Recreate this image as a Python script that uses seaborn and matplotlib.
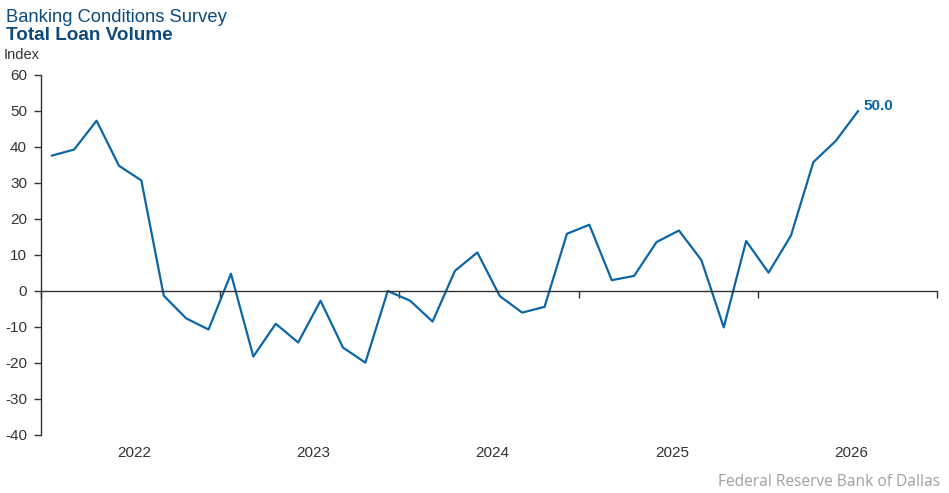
import numpy as np
import matplotlib
matplotlib.use("Agg")
import matplotlib.pyplot as plt
import seaborn as sns

# Total loan volume index, survey waves (8 per year) starting early 2022
loan_volume = [37.6, 39.3, 47.3, 34.8, 30.7, -1.3, -7.6, -10.7, 4.8, -18.2,
               -9.1, -14.3, -2.7, -15.7, -19.9, 0.0, -2.7, -8.5, 5.6, 10.7,
               -1.4, -6.0, -4.4, 15.9, 18.4, 3.0, 4.2, 13.6, 16.8, 8.6,
               -10.1, 13.9, 5.1, 15.4, 35.8, 41.7, 50.0]
waves_per_year = 8
first_year = 2022
years = [2022, 2023, 2024, 2025, 2026]
y_ticks = [-40, -30, -20, -10, 0, 10, 20, 30, 40, 50, 60]

BLUE = "#0b66a8"
NAVY = "#0d4a7c"
GREY = "#333333"


def main():
    sns.set_style("white")
    plt.rcParams['font.family'] = ['Liberation Sans', 'DejaVu Sans']

    t = first_year + (np.arange(len(loan_volume)) + 0.48) / waves_per_year

    fig = plt.figure(figsize=(9.49, 4.93), dpi=100)
    ax = fig.add_axes([41 / 949, 1 - 435 / 493, (937 - 41) / 949, 360 / 493])

    sns.lineplot(x=t, y=loan_volume, ax=ax, color=BLUE, linewidth=1.6)

    ax.set_xlim(years[0], years[-1] + 1)
    ax.set_ylim(y_ticks[0], y_ticks[-1])

    for s in ['top', 'right']:
        ax.spines[s].set_visible(False)
    ax.spines['left'].set_color(GREY)
    ax.spines['left'].set_linewidth(1.0)
    ax.spines['bottom'].set_position(('data', 0))
    ax.spines['bottom'].set_color(GREY)
    ax.spines['bottom'].set_linewidth(1.0)

    ax.set_yticks(y_ticks)
    ax.set_yticklabels([str(v) for v in y_ticks])
    ax.tick_params(axis='y', direction='out', length=5, width=1.0,
                   color=GREY, labelcolor=GREY, labelsize=11, pad=5, left=True)

    # year boundary ticks on the zero line, no labels there
    ax.set_xticks(years + [years[-1] + 1])
    ax.set_xticklabels([])
    ax.tick_params(axis='x', direction='out', length=5, width=1.0,
                   color=GREY, bottom=True)

    # year labels at the bottom, centred in each year
    sec = ax.secondary_xaxis(0.0)
    sec.set_xticks([y + 0.52 for y in years])
    sec.set_xticklabels([str(y) for y in years])
    sec.spines['bottom'].set_visible(False)
    sec.tick_params(length=0, labelsize=11, labelcolor=GREY, pad=8)

    ax.set_xlabel("")
    ax.set_ylabel("")

    ax.annotate(f"{loan_volume[-1]:.1f}", xy=(t[-1], loan_volume[-1]),
                xytext=(4, 1), textcoords='offset points',
                color=BLUE, fontsize=11, fontweight='bold',
                ha='left', va='baseline')

    fig.text(6 / 949, 1 - 22 / 493, "Banking Conditions Survey",
             color=NAVY, fontsize=13.2, ha='left', va='baseline')
    fig.text(6 / 949, 1 - 40 / 493, "Total Loan Volume",
             color=NAVY, fontsize=13.6, fontweight='bold',
             ha='left', va='baseline')
    fig.text(4 / 949, 1 - 59 / 493, "Index",
             color=GREY, fontsize=10.5, ha='left', va='baseline')
    fig.text(940 / 949, 1 - 486 / 493, "Federal Reserve Bank of Dallas",
             color="#a0a0a0", fontsize=11.2, ha='right', va='baseline',
             family=['Open Sans', 'DejaVu Sans'])

    fig.savefig("out.png", dpi=100)


if __name__ == '__main__':
    main()
